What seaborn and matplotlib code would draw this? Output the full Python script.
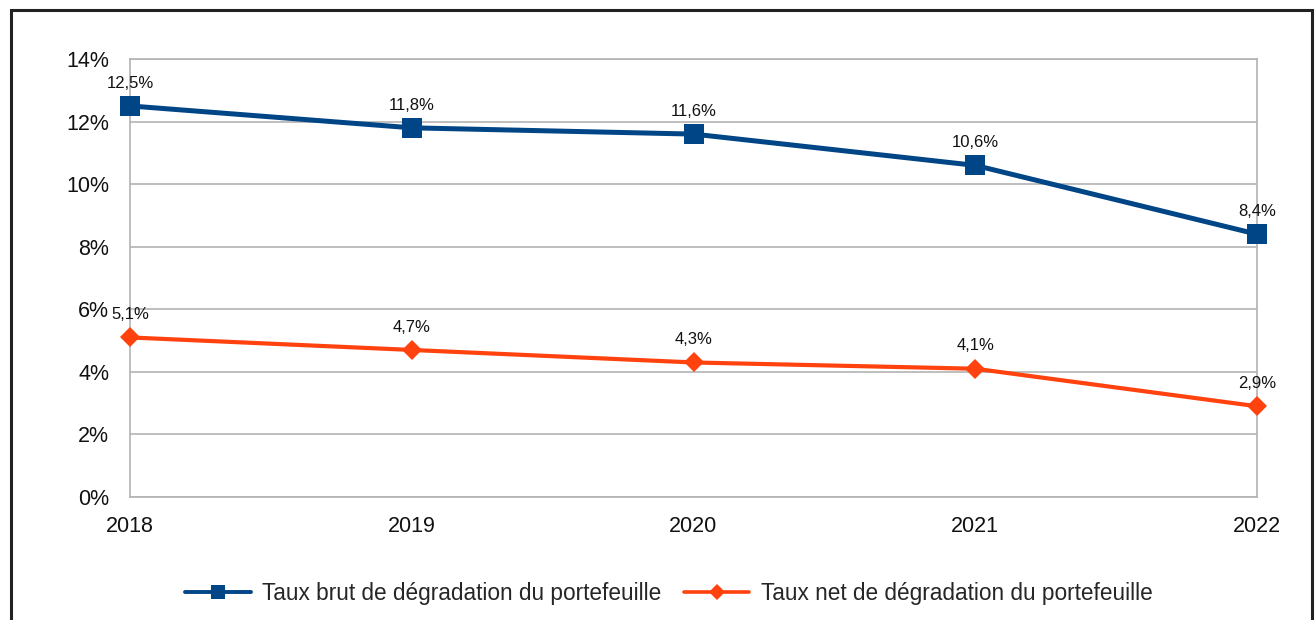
import matplotlib
matplotlib.use("Agg")
import matplotlib.pyplot as plt
import seaborn as sns
import pandas as pd
from matplotlib.ticker import FuncFormatter

years = [2018, 2019, 2020, 2021, 2022]
taux_brut = [12.5, 11.8, 11.6, 10.6, 8.4]
taux_net = [5.1, 4.7, 4.3, 4.1, 2.9]
labels = ["Taux brut de dégradation du portefeuille",
          "Taux net de dégradation du portefeuille"]
y_ticks = [0, 2, 4, 6, 8, 10, 12, 14]

sns.set_style("white")
plt.rcParams['font.family'] = ['Liberation Sans', 'DejaVu Sans']

blue = "#004586"
orange = "#ff420e"
grid_col = "#b3b3b3"

df = pd.DataFrame({"annee": years, "brut": taux_brut, "net": taux_net})

fig = plt.figure(figsize=(13.15, 6.2), dpi=100)
ax = fig.add_axes([130 / 1315, 123 / 620, 1127 / 1315, 438 / 620])

sns.lineplot(data=df, x="annee", y="brut", ax=ax, color=blue, lw=3.6,
             marker="s", markersize=14.5, markeredgewidth=0, label=labels[0],
             clip_on=False, zorder=4)
sns.lineplot(data=df, x="annee", y="net", ax=ax, color=orange, lw=3.0,
             marker="D", markersize=10, markeredgewidth=0, label=labels[1],
             clip_on=False, zorder=4)

# value labels
for serie in (taux_brut, taux_net):
    for x, v in zip(years, serie):
        ax.annotate(f"{v:.1f}%".replace(".", ","), (x, v), xytext=(0, 11),
                    textcoords="offset points", ha="center", va="bottom",
                    fontsize=12, color="#111111")

ax.set_xlim(years[0], years[-1])
ax.set_ylim(0, 14)
ax.set_xticks(years)
ax.set_yticks(y_ticks)
ax.yaxis.set_major_formatter(FuncFormatter(lambda v, p: f"{v:.0f}%"))
ax.grid(axis="y", color=grid_col, lw=1.2)
ax.grid(axis="x", visible=False)
ax.set_xlabel("")
ax.set_ylabel("")
for s in ax.spines.values():
    s.set_color(grid_col)
    s.set_linewidth(1.2)
ax.tick_params(axis="both", colors=grid_col, labelcolor="#111111",
               labelsize=15.5, length=8, width=1.2, direction="out")
ax.tick_params(axis="x", pad=6)
ax.tick_params(axis="y", pad=7)

leg = ax.legend(loc="center", bbox_to_anchor=(0.478, -0.22), ncol=2, frameon=False,
                fontsize=16.3, handlelength=2.9, columnspacing=1.0, handletextpad=0.5)
# smaller markers and thinner lines in the legend, like the original
for h, ms, lw in zip(leg.legend_handles, (10, 8), (2.8, 2.6)):
    h.set_markersize(ms)
    h.set_linewidth(lw)

# outer frame
fig.add_artist(plt.Rectangle((10.5 / 1315, -0.05), 1301 / 1315, 1.05 - 9.5 / 620,
                             transform=fig.transFigure, fill=False,
                             edgecolor="#222222", lw=2.2))

fig.savefig("out.png", dpi=100)
plt.close(fig)
